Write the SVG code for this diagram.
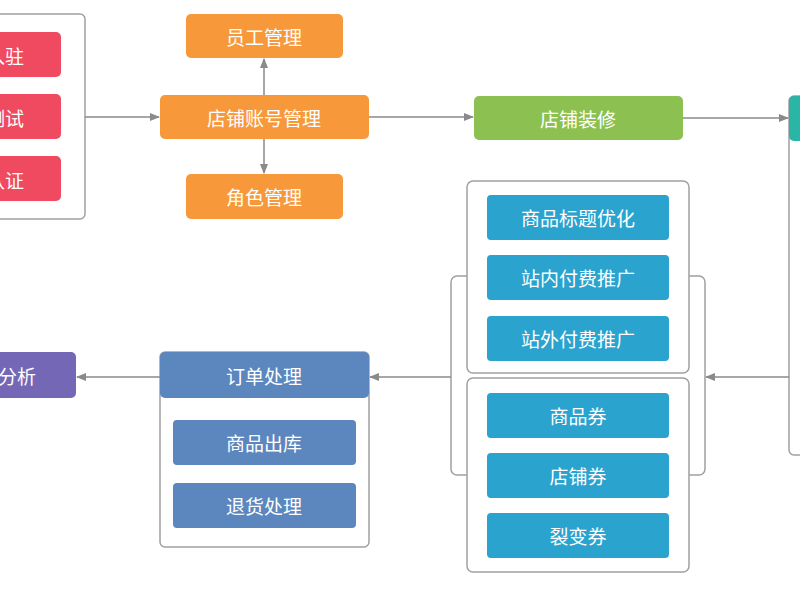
<svg xmlns="http://www.w3.org/2000/svg" width="800" height="600" viewBox="0 0 800 600">
<defs>
<marker id="a" viewBox="0 0 10 10" refX="9" refY="5" markerWidth="7" markerHeight="7" orient="auto"><path d="M0,1 L10,5 L0,9 z" fill="#8a8a8a"/></marker>
<style>
.c{fill:#fff;stroke:#a0a0a0;stroke-width:1.5}
.t{font-family:"Noto Sans CJK SC",sans-serif;font-size:19px;fill:#fff;text-anchor:middle;dominant-baseline:central}
.r{fill:#ef4a5f}.o{fill:#f7993a}.g{fill:#8cc152}.b{fill:#2aa3cf}.u{fill:#5b86be}.p{fill:#7468b6}.e{fill:#2bb5a6}
.l{stroke:#8a8a8a;stroke-width:1.5;fill:none;marker-end:url(#a)}
</style>
</defs>
<rect x="0" y="0" width="800" height="600" fill="#fff"/>
<g id="left">
<rect class="c" x="-20" y="14" width="105" height="205" rx="5"/>
<rect class="r" x="-30" y="32" width="91" height="45" rx="5"/><text class="t" x="5" y="55">入驻</text>
<rect class="r" x="-30" y="94" width="91" height="45" rx="5"/><text class="t" x="5" y="117">测试</text>
<rect class="r" x="-30" y="156" width="91" height="45" rx="5"/><text class="t" x="5" y="179">认证</text>
</g>
<g id="orange">
<rect class="o" x="186" y="14" width="157" height="44" rx="5"/><text class="t" x="264" y="36">员工管理</text>
<rect class="o" x="160" y="95" width="209" height="44" rx="5"/><text class="t" x="264" y="117">店铺账号管理</text>
<rect class="o" x="186" y="174" width="157" height="45" rx="5"/><text class="t" x="264" y="196">角色管理</text>
</g>
<g id="deco"><rect class="g" x="474" y="96" width="209" height="44" rx="5"/><text class="t" x="578" y="118">店铺装修</text></g>
<g id="right">
<rect class="c" x="789" y="96" width="40" height="359" rx="5"/>
<rect class="e" x="789" y="96" width="40" height="45" rx="5"/>
</g>
<g id="market">
<rect class="c" x="451" y="276" width="254" height="199" rx="6"/>
<rect class="c" x="467" y="181" width="222" height="192" rx="6"/>
<rect class="c" x="467" y="378" width="222" height="194" rx="6"/>
<rect class="b" x="487" y="195" width="182" height="45" rx="4"/><text class="t" x="578" y="217">商品标题优化</text>
<rect class="b" x="487" y="255" width="182" height="45" rx="4"/><text class="t" x="578" y="277">站内付费推广</text>
<rect class="b" x="487" y="316" width="182" height="45" rx="4"/><text class="t" x="578" y="338">站外付费推广</text>
<rect class="b" x="487" y="393" width="182" height="45" rx="4"/><text class="t" x="578" y="415">商品券</text>
<rect class="b" x="487" y="453" width="182" height="45" rx="4"/><text class="t" x="578" y="475">店铺券</text>
<rect class="b" x="487" y="513" width="182" height="45" rx="4"/><text class="t" x="578" y="535">裂变券</text>
</g>
<g id="order">
<rect class="c" x="160" y="352" width="209" height="195" rx="5"/>
<rect class="u" x="160" y="352" width="209" height="46" rx="5"/><text class="t" x="264" y="375">订单处理</text>
<rect class="u" x="173" y="420" width="183" height="45" rx="4"/><text class="t" x="264" y="442">商品出库</text>
<rect class="u" x="173" y="483" width="183" height="45" rx="4"/><text class="t" x="264" y="505">退货处理</text>
</g>
<g id="anal"><rect class="p" x="-40" y="352" width="116" height="46" rx="5"/><text class="t" x="-2" y="375">数据分析</text></g>
<g id="connectors">
<path class="l" d="M85,117 H159"/>
<path class="l" d="M264,95 V59"/>
<path class="l" d="M264,139 V173"/>
<path class="l" d="M369,117 H473"/>
<path class="l" d="M683,118 H788"/>
<path class="l" d="M789,377 H706"/>
<path class="l" d="M451,377 H370"/>
<path class="l" d="M160,377 H77"/>
</g>
</svg>
